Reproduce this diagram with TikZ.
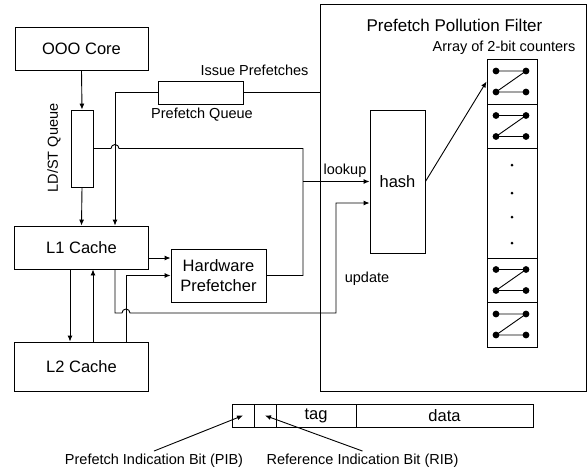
\documentclass[tikz,border=0pt]{standalone}
\usepackage{fontspec}
\setmainfont{Liberation Sans}
\usetikzlibrary{arrows.meta,calc}
\begin{document}
\begin{tikzpicture}[x=1pt,y=-1pt,line width=0.9pt,
	box/.style={draw,inner sep=0pt,align=center,font=\fontsize{16.5}{20}\selectfont},
	lbl/.style={inner sep=0pt,font=\fontsize{14.5}{17}\selectfont},
	cell/.style={draw,inner sep=0pt,minimum width=50pt},
	field/.style={draw,inner sep=0pt,minimum height=23pt,font=\fontsize{16.5}{20}\selectfont},
	arr/.style={-{Latex[length=6pt,width=5pt]}}]
\useasboundingbox (0,0) rectangle (587,472);
% x positions of the vertical wires
\coordinate (dnx) at (70,0);
\coordinate (upx) at (93,0);
\coordinate (pfx) at (115,0);
\coordinate (l2x) at (126,0);
\coordinate (lkx) at (303,0);
\coordinate (ux) at (336,0);
\coordinate (hwin) at (0,258);
\coordinate (upbend) at (115,313);
\coordinate (uprise) at (336,313);
\coordinate (upin) at (336,203);
% core side
\node[box,minimum width=133pt,minimum height=43pt] (core) at (81.5,48.5) {OOO Core};
\node[draw,inner sep=0pt,minimum width=22pt,minimum height=77pt] (ldst) at (82,148.5) {};
\node[lbl,rotate=90] (ldstlbl) at (54,148) {LD/ST Queue};
\node[box,minimum width=134pt,minimum height=43pt] (l1) at (81.5,247.5) {L1 Cache};
\node[box,minimum width=134pt,minimum height=49pt] (l2) at (81.5,366.5) {L2 Cache};
\node[box,minimum width=95pt,minimum height=53pt] (hwpf) at (218.5,275.5) {Hardware\\Prefetcher};
\node[draw,inner sep=0pt,minimum width=85pt,minimum height=23pt] (pq) at (200.5,92.5) {};
\node[lbl] (issuelbl) at (254.5,70) {Issue Prefetches};
\node[lbl] (pqlbl) at (202,115) {Prefetch Queue};
% filter
\node[draw,inner sep=0pt,minimum width=266pt,minimum height=387pt] (filter) at (453,197.5) {};
\node[lbl,font=\fontsize{17}{20}\selectfont] (filtertitle) at (454.5,25) {Prefetch Pollution Filter};
\node[lbl] (arraylbl) at (504,48) {Array of 2-bit counters};
\node[box,minimum width=55pt,minimum height=143pt] (hash) at (397.5,181.5) {hash};
\node[lbl] (lookuplbl) at (345,171) {lookup};
\node[lbl] (updatelbl) at (367,279) {update};
\node[cell,minimum height=45pt] (c1) at (512,81.5) {};
\node[cell,minimum height=44pt] (c2) at (512,126) {};
\node[cell,minimum height=110pt] (cdots) at (512,203) {};
\node[cell,minimum height=44pt] (c4) at (512,280) {};
\node[cell,minimum height=45pt] (c5) at (512,324.5) {};
\foreach \c in {c1,c2,c4,c5}{
	\draw ($(\c.center)+(-16,-10.5)$) coordinate (z1) -- ++(30,0) coordinate (z2) -- ++(-30,21) coordinate (z3) -- ++(30,0) coordinate (z4);
	\foreach \z in {z1,z2,z3,z4} \fill (\z) circle (3.4pt);
}
\foreach \y in {165,193,217,243} \fill (512,\y) circle (1.5pt);
% cache line
\node[field,minimum width=22pt] (pib) at (243,415.5) {};
\node[field,minimum width=22pt] (rib) at (265,415.5) {};
\node[field,minimum width=80pt] (tag) at (316,415.5) {tag};
\node[field,minimum width=177pt] (data) at (444.5,415.5) {data};
\node[lbl,anchor=base,inner sep=2pt] (piblbl) at (154,464) {Prefetch Indication Bit (PIB)};
\node[lbl,anchor=base,inner sep=2pt] (riblbl) at (362.5,464) {Reference Indication Bit (RIB)};
% wires
\draw[arr] (core.south) -- (ldst.north);
\draw[arr] (ldst.south) -- (l1.north);
\draw (filter.west |- pq.east) -- (pq.east);% issue prefetches
\draw[arr] (pq.west) -| (pfx |- l1.north);
\draw (ldst.east) -- ($(pfx |- ldst.east)+(-4,0)$) arc[start angle=180,end angle=0,radius=4pt] -- (lkx |- ldst.east) -- (lkx |- hwpf.east) -- (hwpf.east);
\draw[arr] (lkx |- hash.west) -- (hash.west);% lookup
\draw[arr] (l1.east |- hwin) -- (hwpf.west |- hwin);
\draw[arr] (l2x |- l2.north) -- (l2x |- hwpf.west) -- (hwpf.west |- hwpf.east);
\draw[arr] (dnx |- l1.south) -- (dnx |- l2.north);
\draw[arr] (upx |- l2.north) -- (upx |- l1.south);
\draw[arr] (pfx |- l1.south) -- (upbend) -- ($(l2x |- upbend)+(-4,0)$) arc[start angle=180,end angle=0,radius=4pt] -- (uprise) -- (upin) -- (hash.west |- upin);% update
\draw[arr] (hash.east) -- (c1.west);
\draw[arr] (piblbl.north) -- (pib.center);
\draw[arr] (riblbl.north) -- (rib.center);
\end{tikzpicture}
\end{document}
